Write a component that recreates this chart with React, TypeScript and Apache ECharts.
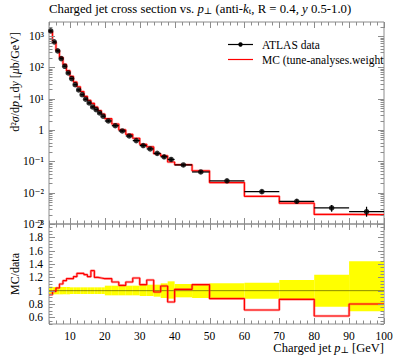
import React, { useEffect, useRef } from 'react';
import * as echarts from 'echarts';

// ---- data ----
const binEdges = [4, 5, 6, 7, 8, 9, 10, 11, 12, 13, 14, 15, 16, 17, 18, 19, 20, 22, 24, 26, 28, 30, 32, 34, 36, 38, 40, 45, 50, 60, 70, 80, 90, 100];
const dataValues = [1466, 653, 337, 191, 109, 66.7, 43.9, 28.2, 19.1, 13.5, 9.64, 7.34, 5.47, 4.49, 3.52, 2.76, 1.95, 1.38, 0.935, 0.647, 0.46, 0.32, 0.25, 0.18, 0.14, 0.115, 0.0767, 0.0458, 0.024, 0.0108, 0.0053, 0.00325, 0.00247];
const mcValues = [1378, 646, 350, 210, 125, 78.7, 51.8, 34.1, 24.1, 17.0, 11.95, 8.88, 7.11, 5.39, 4.19, 3.26, 2.30, 1.56, 1.01, 0.731, 0.547, 0.349, 0.29, 0.176, 0.150, 0.0955, 0.0782, 0.0499, 0.0211, 0.00767, 0.00461, 0.00202, 0.00198];
const ratioValues = [0.94, 0.99, 1.04, 1.10, 1.15, 1.18, 1.18, 1.21, 1.26, 1.26, 1.24, 1.21, 1.30, 1.20, 1.19, 1.18, 1.18, 1.13, 1.08, 1.13, 1.19, 1.09, 1.16, 0.98, 1.07, 0.83, 1.02, 1.09, 0.88, 0.71, 0.87, 0.62, 0.80];
const bandLow = [0.94, 0.945, 0.945, 0.945, 0.945, 0.945, 0.95, 0.95, 0.95, 0.95, 0.95, 0.95, 0.95, 0.95, 0.95, 0.95, 0.93, 0.93, 0.93, 0.93, 0.93, 0.92, 0.92, 0.91, 0.89, 0.88, 0.90, 0.89, 0.88, 0.88, 0.86, 0.76, 0.69];
const bandHigh = [1.06, 1.055, 1.055, 1.055, 1.055, 1.055, 1.05, 1.05, 1.05, 1.05, 1.05, 1.05, 1.05, 1.05, 1.05, 1.05, 1.075, 1.075, 1.075, 1.075, 1.075, 1.09, 1.09, 1.09, 1.11, 1.14, 1.10, 1.10, 1.11, 1.12, 1.16, 1.24, 1.44];

const xTickLabels = [10, 20, 30, 40, 50, 60, 70, 80, 90, 100];
const logTickLabels = [0.001, 0.01, 0.1, 1, 10, 100, 1000];
const ratioTickLabels = [0.6, 0.8, 1.0, 1.2, 1.4, 1.6, 1.8, 2.0];

const FONT = '"Liberation Serif", "DejaVu Serif", serif';
const FRAME = '#8c8c8c';

const supMap: Record<string, string> = { '0': '⁰', '1': '¹', '2': '²', '3': '³', '4': '⁴', '5': '⁵', '6': '⁶', '7': '⁷', '8': '⁸', '9': '⁹', '-': '⁻' };
const toSup = (s: string) => s.split('').map((c) => supMap[c] || c).join('');

function buildTicks(xRef: number, yRef: number, yMajor: number[], yMinor: number[]) {
  const items: number[][] = [];
  for (let v = 4; v <= 100; v += 2) {
    items.push([v, yRef, v % 10 === 0 ? 0 : 1]);
  }
  yMajor.forEach((v) => items.push([xRef, v, 2]));
  yMinor.forEach((v) => items.push([xRef, v, 3]));
  return items;
}

const logMajor = logTickLabels;
const logMinor: number[] = [];
for (let e = -3; e <= 3; e++) {
  for (let m = 2; m <= 9; m++) {
    const v = m * Math.pow(10, e);
    if (v < 2820) logMinor.push(v);
  }
}
const ratioMajor = ratioTickLabels;
const ratioMinor: number[] = [];
for (let i = 10; i <= 40; i++) {
  if (i % 4 !== 0) ratioMinor.push(i * 0.05);
}

const tickRender = (params: any, api: any) => {
  const cs = params.coordSys;
  const kind = api.value(2);
  const len = kind % 2 === 0 ? 6 : 3.5;
  const style = { stroke: FRAME, lineWidth: 1 };
  if (kind < 2) {
    const px = Math.round(api.coord([api.value(0), api.value(1)])[0]) + 0.5;
    const b = cs.y + cs.height;
    const t = cs.y;
    return {
      type: 'group',
      children: [
        { type: 'line', shape: { x1: px, y1: b, x2: px, y2: b - len }, style },
        { type: 'line', shape: { x1: px, y1: t, x2: px, y2: t + len }, style },
      ],
    };
  }
  const py = Math.round(api.coord([api.value(0), api.value(1)])[1]) + 0.5;
  const l = cs.x;
  const r = cs.x + cs.width;
  return {
    type: 'group',
    children: [
      { type: 'line', shape: { x1: l, y1: py, x2: l + len, y2: py }, style },
      { type: 'line', shape: { x1: r, y1: py, x2: r - len, y2: py }, style },
    ],
  };
};

const makeRich = (fs: number) => ({
  i: { fontFamily: FONT, fontSize: fs, fontStyle: 'italic', color: '#000' },
  s: { fontFamily: FONT, fontSize: Math.round(fs * 0.72), color: '#000', verticalAlign: 'bottom', padding: [4, 0, 0, 0] },
  n: { fontFamily: FONT, fontSize: fs, color: '#000' },
});

export default function App() {
  const ref = useRef<HTMLDivElement>(null);
  useEffect(() => {
    if (!ref.current) return;
    const chart = echarts.init(ref.current, undefined, { renderer: 'svg' });

    const dataPoints = dataValues.map((v, i) => [(binEdges[i] + binEdges[i + 1]) / 2, v]);
    const errItems = dataValues.map((v, i) => [binEdges[i], binEdges[i + 1], v, v * bandLow[i], v * bandHigh[i]]);
    const mcStep = binEdges.map((e, i) => [e, mcValues[Math.min(i, mcValues.length - 1)]]);
    const ratioStep = binEdges.map((e, i) => [e, ratioValues[Math.min(i, ratioValues.length - 1)]]);
    const bandItems = bandLow.map((lo, i) => [binEdges[i], binEdges[i + 1], lo, bandHigh[i]]);

    const option: any = {
      animation: false,
      backgroundColor: '#fff',
      grid: [
        { left: 49, top: 22, width: 335, height: 202, show: true, borderColor: FRAME, borderWidth: 1, backgroundColor: 'transparent' },
        { left: 49, top: 224, width: 335, height: 100, show: true, borderColor: FRAME, borderWidth: 1, backgroundColor: 'transparent' },
      ],
      xAxis: [
        {
          gridIndex: 0, type: 'value', min: 4, max: 100, interval: 2,
          axisLine: { show: false }, axisTick: { show: false }, splitLine: { show: false },
          axisLabel: { show: false },
        },
        {
          gridIndex: 1, type: 'value', min: 4, max: 100, interval: 2,
          axisLine: { show: false }, axisTick: { show: false }, splitLine: { show: false },
          axisLabel: {
            interval: 0, margin: 6, color: '#000', fontFamily: FONT, fontSize: 11.5,
            formatter: (v: number) => (xTickLabels.includes(Math.round(v)) ? String(Math.round(v)) : ''),
          },
        },
      ],
      yAxis: [
        {
          gridIndex: 0, type: 'log', logBase: 10, min: 0.001, max: 2820,
          axisLine: { show: false }, axisTick: { show: false }, splitLine: { show: false },
          axisLabel: {
            margin: 5, color: '#000', fontFamily: FONT, fontSize: 11.5, showMaxLabel: true, showMinLabel: true,
            formatter: (v: number) => {
              const e = Math.round(Math.log10(v));
              if (Math.abs(Math.log10(v) - e) > 1e-6) return '';
              if (!logTickLabels.some((t) => Math.abs(Math.log10(t) - e) < 1e-6)) return '';
              if (e === 0) return '1';
              return '10' + toSup(String(e));
            },
          },
        },
        {
          gridIndex: 1, type: 'value', min: 0.5, max: 2, interval: 0.1,
          axisLine: { show: false }, axisTick: { show: false }, splitLine: { show: false },
          axisLabel: {
            interval: 0, margin: 6, color: '#000', fontFamily: FONT, fontSize: 11.5, showMaxLabel: true,
            formatter: (v: number) => {
              const r = Math.round(v * 10) / 10;
              if (!ratioTickLabels.some((t) => Math.abs(t - r) < 1e-6)) return '';
              if (Math.abs(r - 1) < 1e-6) return '1';
              if (Math.abs(r - 2) < 1e-6) return '2';
              return r.toFixed(1);
            },
          },
        },
      ],
      series: [
        // ratio band
        {
          type: 'custom', xAxisIndex: 1, yAxisIndex: 1, z: 1,
          data: bandItems,
          encode: { x: [0, 1], y: [2, 3] },
          renderItem: (params: any, api: any) => {
            const p1 = api.coord([api.value(0), api.value(3)]);
            const p2 = api.coord([api.value(1), api.value(2)]);
            return { type: 'rect', shape: { x: p1[0], y: p1[1], width: p2[0] - p1[0], height: p2[1] - p1[1] }, style: { fill: '#ffff00' } };
          },
        },
        // reference line at 1
        {
          type: 'line', xAxisIndex: 1, yAxisIndex: 1, z: 2,
          data: [[4, 1], [100, 1]], showSymbol: false,
          lineStyle: { color: 'rgba(0,0,0,0.45)', width: 1 },
        },
        // ratio MC shadow
        {
          type: 'line', xAxisIndex: 1, yAxisIndex: 1, z: 3, step: 'end',
          data: ratioStep, showSymbol: false,
          lineStyle: { color: 'rgba(255,60,60,0.45)', width: 2.6 },
        },
        {
          type: 'line', xAxisIndex: 1, yAxisIndex: 1, z: 4, step: 'end',
          data: ratioStep, showSymbol: false,
          lineStyle: { color: '#ff0000', width: 1.2 },
        },
        // top MC shadow + line
        {
          type: 'line', xAxisIndex: 0, yAxisIndex: 0, z: 3, step: 'end',
          data: mcStep, showSymbol: false,
          lineStyle: { color: 'rgba(255,60,60,0.45)', width: 2.6 },
        },
        {
          type: 'line', xAxisIndex: 0, yAxisIndex: 0, z: 4, step: 'end',
          data: mcStep, showSymbol: false,
          lineStyle: { color: '#ff0000', width: 1.2 },
        },
        // data error bars
        {
          type: 'custom', xAxisIndex: 0, yAxisIndex: 0, z: 5,
          data: errItems,
          encode: { x: [0, 1], y: [2, 3, 4] },
          renderItem: (params: any, api: any) => {
            const lo = api.value(0);
            const hi = api.value(1);
            const y = api.value(2);
            const a = api.coord([lo, y]);
            const b = api.coord([hi, y]);
            const c1 = api.coord([(lo + hi) / 2, api.value(3)]);
            const c2 = api.coord([(lo + hi) / 2, api.value(4)]);
            const style = { stroke: '#000', lineWidth: 1.2 };
            return {
              type: 'group',
              children: [
                { type: 'line', shape: { x1: a[0], y1: a[1], x2: b[0], y2: b[1] }, style },
                { type: 'line', shape: { x1: c1[0], y1: c1[1], x2: c2[0], y2: c2[1] }, style },
              ],
            };
          },
        },
        {
          type: 'scatter', xAxisIndex: 0, yAxisIndex: 0, z: 6,
          data: dataPoints, symbol: 'circle', symbolSize: 5.5,
          itemStyle: { color: '#000' },
        },
        // ticks
        {
          type: 'custom', xAxisIndex: 0, yAxisIndex: 0, z: 10, silent: true,
          data: buildTicks(50, 1, logMajor, logMinor),
          encode: { x: 0, y: 1 },
          renderItem: tickRender,
        },
        {
          type: 'custom', xAxisIndex: 1, yAxisIndex: 1, z: 10, silent: true,
          data: buildTicks(50, 1, ratioMajor, ratioMinor),
          encode: { x: 0, y: 1 },
          renderItem: tickRender,
        },
      ],
      graphic: [
        {
          type: 'text', left: 49, top: 2, z: 20,
          style: {
            text: '{n|Charged jet cross section vs. }{i|p}{s|⊥}{n| (anti-}{i|k}{s|t}{n|, R = 0.4, }{i|y}{n| 0.5-1.0)}',
            rich: makeRich(12.75), fontFamily: FONT, fontSize: 12.75, fill: '#000',
          },
        },
        {
          type: 'text', x: 15, y: 82, rotation: Math.PI / 2, z: 20,
          style: {
            text: '{n|d²}{i|σ}{n|/d}{i|p}{s|⊥}{n|d}{i|y}{n| [}{i|μ}{n|b/GeV]}',
            rich: makeRich(12), fontFamily: FONT, fontSize: 12, fill: '#000', align: 'center', verticalAlign: 'middle',
          },
        },
        {
          type: 'text', x: 15, y: 274, rotation: Math.PI / 2, z: 20,
          style: {
            text: 'MC/data', fontFamily: FONT, fontSize: 12, fill: '#000', align: 'center', verticalAlign: 'middle',
          },
        },
        {
          type: 'text', x: 384, y: 348, z: 20,
          style: {
            text: '{n|Charged jet }{i|p}{s|⊥}{n| [GeV]}',
            rich: makeRich(12.5), fontFamily: FONT, fontSize: 12.5, fill: '#000', align: 'right', verticalAlign: 'middle',
          },
        },
        // legend
        { type: 'line', z: 20, shape: { x1: 228, y1: 44.5, x2: 253, y2: 44.5 }, style: { stroke: '#000', lineWidth: 1.2 } },
        { type: 'circle', z: 20, shape: { cx: 240.5, cy: 44.5, r: 2.2 }, style: { fill: '#000' } },
        { type: 'text', z: 20, x: 262, y: 44.5, style: { text: 'ATLAS data', fontFamily: FONT, fontSize: 11.5, fill: '#000', verticalAlign: 'middle' } },
        { type: 'line', z: 20, shape: { x1: 228, y1: 59.5, x2: 253, y2: 59.5 }, style: { stroke: '#ff0000', lineWidth: 1.2 } },
        { type: 'text', z: 20, x: 262, y: 59.5, style: { text: 'MC (tune-analyses.weight', fontFamily: FONT, fontSize: 11.5, fill: '#000', verticalAlign: 'middle' } },
      ],
    };
    chart.setOption(option);
    return () => chart.dispose();
  }, []);
  return <div ref={ref} style={{ position: 'fixed', left: 0, top: 0, width: 397, height: 358, background: '#fff' }} />;
}
